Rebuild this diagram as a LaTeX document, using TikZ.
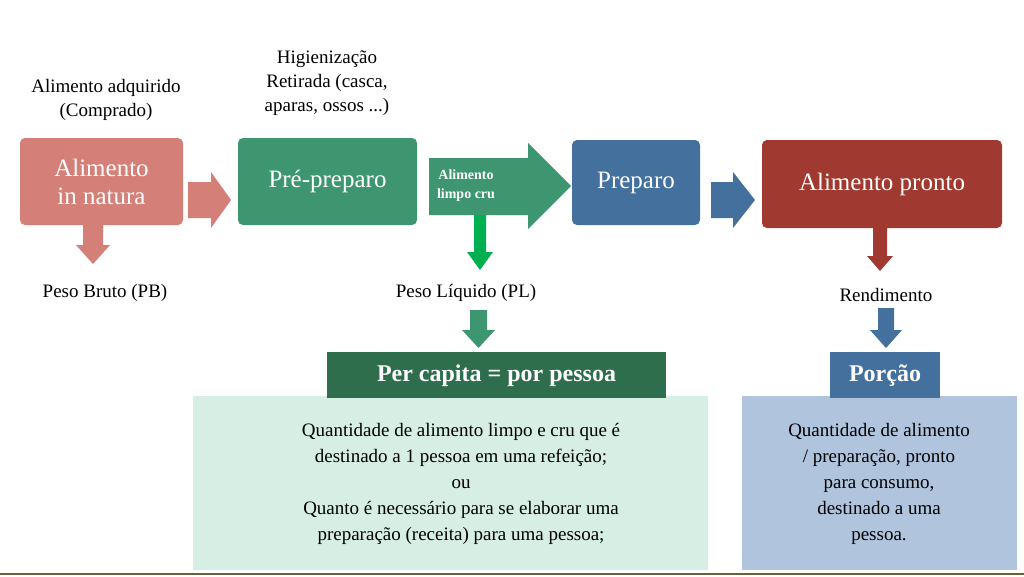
\documentclass[tikz,border=0pt]{standalone}
\usepackage{fontspec}
\setmainfont{Liberation Serif}
\begin{document}
\begin{tikzpicture}[x=1pt,y=-1pt,
  box/.style={rounded corners=5pt,text=white,align=center,font=\fontsize{25}{28}\selectfont,inner sep=0pt},
  lbl/.style={align=center,font=\fontsize{19}{24}\selectfont,inner sep=0pt},
  body/.style={align=center,font=\fontsize{19}{26}\selectfont,inner sep=0pt}]
\definecolor{cpink}{HTML}{D47F77}
\definecolor{cgreen}{HTML}{3E9671}
\definecolor{cblue}{HTML}{44709E}
\definecolor{cred}{HTML}{A0392F}
\definecolor{cbright}{HTML}{00B050}
\definecolor{cdkgreen}{HTML}{2E6E4C}
\definecolor{clgreen}{HTML}{D6EEE3}
\definecolor{clblue}{HTML}{B0C4DE}
\useasboundingbox (0,0) rectangle (1024,576);
\fill[white] (0,0) rectangle (1024,576);
% boxes
\fill[cpink,rounded corners=5pt] (20,138) rectangle (183,225);
\node[box] (b1) at (101.5,181.5) {Alimento\\in natura};
\fill[cgreen,rounded corners=5pt] (238,138) rectangle (417,225);
\node[box] (b2) at (327.5,181.5) {Pré-preparo};
\fill[cblue,rounded corners=5pt] (572,140) rectangle (700,225);
\node[box] (b3) at (636,182.5) {Preparo};
\fill[cred,rounded corners=5pt] (762,140) rectangle (1002,228);
\node[box] (b4) at (882,184) {Alimento pronto};
% horizontal arrows
\fill[cpink] (188,182)--(211,182)--(211,172)--(231,200)--(211,228)--(211,218)--(188,218)--cycle;
\fill[cgreen] (429,158)--(528,158)--(528,143)--(571,186)--(528,229)--(528,215)--(429,215)--cycle;
\node[text=white,font=\bfseries\fontsize{14}{19}\selectfont,align=center] (ar) at (466,186) {Alimento\\limpo cru};
\fill[cblue] (711,182)--(733,182)--(733,172)--(755,200)--(733,228)--(733,218)--(711,218)--cycle;
% down arrows
\fill[cpink] (83,225)--(103,225)--(103,245)--(110,245)--(93,264)--(76,245)--(83,245)--cycle;
\fill[cbright] (474,215)--(486,215)--(486,252)--(493,252)--(480,270)--(467,252)--(474,252)--cycle;
\fill[cred] (873,228)--(887,228)--(887,256)--(893,256)--(880,271)--(867,256)--(873,256)--cycle;
\fill[cgreen] (470,310)--(487,310)--(487,330)--(495,330)--(478.5,348)--(462,330)--(470,330)--cycle;
\fill[cblue] (878,308)--(894,308)--(894,330)--(902,330)--(886,348)--(870,330)--(878,330)--cycle;
% labels
\node[lbl] (t1) at (106,100) {Alimento adquirido\\(Comprado)};
\node[lbl] (t2) at (327,83) {Higienização\\Retirada (casca,\\aparas, ossos ...)};
\node[lbl] (pb) at (105,293) {Peso Bruto (PB)};
\node[lbl] (pl) at (466,293) {Peso Líquido (PL)};
\node[lbl] (rd) at (886,295) {Rendimento};
% bottom boxes
\fill[clgreen] (193,396) rectangle (708,570);
\fill[clblue] (742,396) rectangle (1017,570);
\fill[cdkgreen] (327,352) rectangle (666,398);
\node[text=white,font=\bfseries\fontsize{24}{28}\selectfont] (pc) at (496.5,376) {Per capita = por pessoa};
\fill[cblue] (830,352) rectangle (940,398);
\node[text=white,font=\bfseries\fontsize{24}{28}\selectfont] (po) at (885,376) {Porção};
\node[body] (d1) at (461,484) {Quantidade de alimento limpo e cru que é\\destinado a 1 pessoa em uma refeição;\\ou\\Quanto é necessário para se elaborar uma\\preparação (receita) para uma pessoa;};
\node[body] (d2) at (879,484) {Quantidade de alimento\\/ preparação, pronto\\para consumo,\\destinado a uma\\pessoa.};
\draw[line width=2pt,color={rgb,255:red,100;green,100;blue,60}] (0,574) -- (1024,574);
\end{tikzpicture}
\end{document}
